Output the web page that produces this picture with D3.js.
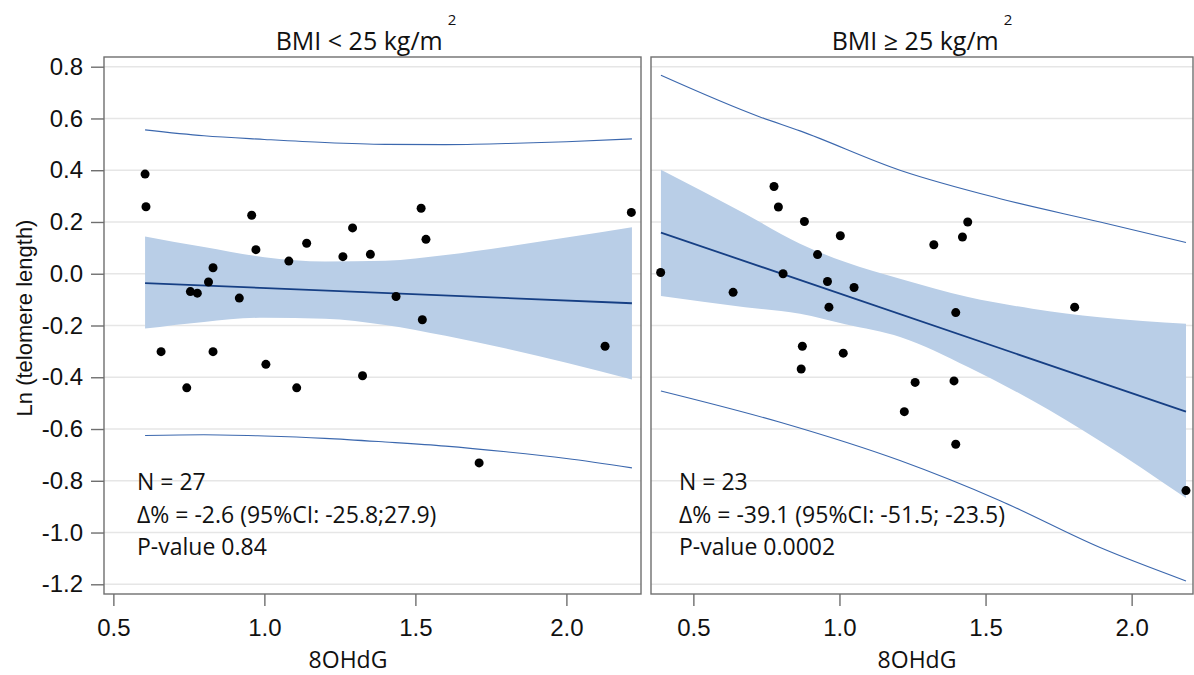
<!DOCTYPE html>
<html>
<head>
<meta charset="utf-8">
<script src="https://cdn.jsdelivr.net/npm/d3@7"></script>
<style>
body { margin: 0; background: #fff; }
</style>
</head>
<body>
<div id="chart"></div>
<script>
// ---------------- data ----------------
const yTicks = [0.8, 0.6, 0.4, 0.2, 0.0, -0.2, -0.4, -0.6, -0.8, -1.0, -1.2];
const xTicks = [0.5, 1.0, 1.5, 2.0];
const panelTitles = ["BMI < 25 kg/m", "BMI \u2265 25 kg/m"];
const xTitle = "8OHdG";
const yTitle = "Ln (telomere length)";

// BMI < 25
const lowX = [0.605, 0.608, 0.658, 0.743, 0.755, 0.778, 0.815, 0.830, 0.830, 0.917,
              0.958, 0.972, 1.005, 1.081, 1.107, 1.140, 1.260, 1.292, 1.325, 1.351,
              1.436, 1.519, 1.535, 1.523, 1.711, 2.128, 2.215];
const lowY = [0.385, 0.259, -0.301, -0.441, -0.069, -0.075, -0.032, 0.023, -0.301, -0.094,
              0.226, 0.093, -0.350, 0.049, -0.441, 0.118, 0.066, 0.177, -0.394, 0.075,
              -0.088, 0.253, 0.133, -0.178, -0.731, -0.280, 0.237];
const lowFitX = [0.605, 2.217];
const lowFitY = [-0.036, -0.114];
const lowBandX = [0.605, 0.8, 1.0, 1.2, 1.4, 1.6, 1.8, 2.0, 2.217];
const lowCiUp = [0.144, 0.103, 0.064, 0.047, 0.050, 0.072, 0.104, 0.140, 0.180];
const lowCiLo = [-0.212, -0.186, -0.170, -0.174, -0.198, -0.240, -0.289, -0.344, -0.409];
const lowPiUp = [0.556, 0.533, 0.519, 0.507, 0.500, 0.499, 0.503, 0.510, 0.521];
const lowPiLo = [-0.625, -0.622, -0.627, -0.636, -0.650, -0.666, -0.688, -0.714, -0.750];
const lowNotes = ["N = 27", "\u0394% = -2.6 (95%CI: -25.8;27.9)", "P-value 0.84"];

// BMI >= 25
const highX = [0.388, 0.636, 0.776, 0.791, 0.880, 1.003, 0.925, 0.807, 0.959, 0.964,
               1.050, 1.323, 1.421, 1.439, 1.398, 1.805, 0.873, 1.013, 0.869, 1.259,
               1.392, 1.222, 1.398, 2.186];
const highY = [0.005, -0.072, 0.337, 0.258, 0.202, 0.147, 0.074, 0.000, -0.030, -0.129,
               -0.053, 0.112, 0.142, 0.200, -0.150, -0.129, -0.280, -0.307, -0.368, -0.420,
               -0.414, -0.533, -0.659, -0.838];
const highFitX = [0.389, 2.186];
const highFitY = [0.159, -0.533];
const highBandX = [0.389, 0.677, 0.865, 1.02, 1.21, 1.44, 1.66, 1.89, 2.186];
const highCiUp = [0.402, 0.232, 0.116, 0.045, -0.020, -0.090, -0.135, -0.168, -0.193];
const highCiLo = [-0.086, -0.129, -0.155, -0.195, -0.245, -0.360, -0.490, -0.645, -0.867];
const highPiX = [0.389, 0.728, 0.865, 1.207, 1.55, 1.892, 2.186];
const highPiUp = [0.767, 0.606, 0.552, 0.400, 0.290, 0.200, 0.121];
const highPiLoX = [0.389, 0.797, 1.207, 1.55, 1.892, 2.186];
const highPiLo = [-0.453, -0.574, -0.722, -0.877, -1.058, -1.187];
const highNotes = ["N = 23", "\u0394% = -39.1 (95%CI: -51.5; -23.5)", "P-value 0.0002"];

// ---------------- layout ----------------
const FRAME_WIDTH = 1194;
const FRAME_HEIGHT = 675;
const TOP = 57, BOTTOM = 594;
const BAND_COLOR = "#b9cee7";
const FIT_COLOR = "#163f84";
const PI_COLOR = "#3c68ae";
const TICK_FONT = "'Liberation Sans', Arial, sans-serif";
const TEXT_FONT = "'Open Sans', 'Noto Sans', sans-serif";

const zip = (a, b) => a.map((v, i) => [v, b[i]]);

const panels = [
  {left: 104, right: 641, domain: [0.469, 2.247], title: panelTitles[0], titleX: 366, xTitleX: 348,
   pts: zip(lowX, lowY), fit: zip(lowFitX, lowFitY),
   band: lowBandX.map((x, i) => [x, lowCiLo[i], lowCiUp[i]]),
   piUp: zip(lowBandX, lowPiUp), piLo: zip(lowBandX, lowPiLo), notes: lowNotes},
  {left: 651, right: 1193, domain: [0.355, 2.210], title: panelTitles[1], titleX: 922, xTitleX: 917,
   pts: zip(highX, highY), fit: zip(highFitX, highFitY),
   band: highBandX.map((x, i) => [x, highCiLo[i], highCiUp[i]]),
   piUp: zip(highPiX, highPiUp), piLo: zip(highPiLoX, highPiLo), notes: highNotes}
];

const SVG = d3.select("#chart")
  .append("svg")
    .attr("width", FRAME_WIDTH)
    .attr("height", FRAME_HEIGHT);

const y = d3.scaleLinear()
  .domain([-1.2375, 0.8375])
  .range([BOTTOM, TOP]);

panels.forEach((p, k) => {
  const x = d3.scaleLinear().domain(p.domain).range([p.left, p.right]);
  const g = SVG.append("g");

  // horizontal grid
  g.selectAll(".grid")
    .data(yTicks)
    .enter()
    .append("line")
      .attr("x1", p.left).attr("x2", p.right)
      .attr("y1", d => y(d)).attr("y2", d => y(d))
      .attr("stroke", "#e6e6e6")
      .attr("stroke-width", 1.5);

  // confidence band
  g.append("path")
    .datum(p.band)
    .attr("fill", BAND_COLOR)
    .attr("d", d3.area()
      .x(d => x(d[0]))
      .y0(d => y(d[1]))
      .y1(d => y(d[2]))
      .curve(d3.curveMonotoneX));

  // prediction interval lines
  const line = d3.line().x(d => x(d[0])).y(d => y(d[1])).curve(d3.curveMonotoneX);
  [p.piUp, p.piLo].forEach(pts => {
    g.append("path")
      .datum(pts)
      .attr("fill", "none")
      .attr("stroke", PI_COLOR)
      .attr("stroke-width", 1.1)
      .attr("d", line);
  });

  // fitted line
  g.append("path")
    .datum(p.fit)
    .attr("fill", "none")
    .attr("stroke", FIT_COLOR)
    .attr("stroke-width", 1.8)
    .attr("d", d3.line().x(d => x(d[0])).y(d => y(d[1])));

  // points
  g.selectAll(".dot")
    .data(p.pts)
    .enter()
    .append("circle")
      .attr("cx", d => x(d[0]))
      .attr("cy", d => y(d[1]))
      .attr("r", 4.5)
      .attr("fill", "#000");

  // frame
  g.append("rect")
    .attr("x", p.left).attr("y", TOP)
    .attr("width", p.right - p.left).attr("height", BOTTOM - TOP)
    .attr("fill", "none")
    .attr("stroke", "#6f6f6f")
    .attr("stroke-width", 1.4);

  // x axis
  const xa = g.append("g")
    .attr("transform", "translate(0," + BOTTOM + ")")
    .call(d3.axisBottom(x).tickValues(xTicks).tickSize(12).tickPadding(13)
      .tickFormat(d => d.toFixed(1)));
  xa.select(".domain").remove();
  xa.selectAll("line").attr("stroke", "#6f6f6f").attr("stroke-width", 1.4);
  xa.selectAll("text").attr("font-family", TICK_FONT).attr("font-size", 24).attr("fill", "#111");

  // x title
  g.append("text")
    .attr("x", p.xTitleX).attr("y", 668)
    .attr("text-anchor", "middle")
    .attr("font-family", TEXT_FONT).attr("font-size", 23).attr("fill", "#111")
    .text(xTitle);

  // panel title with squared unit
  const t = g.append("text")
    .attr("x", p.titleX).attr("y", 50)
    .attr("text-anchor", "middle")
    .attr("font-family", TEXT_FONT).attr("font-size", 25).attr("fill", "#111");
  t.append("tspan").text(p.title);
  t.append("tspan").attr("dx", 5).attr("dy", -25).attr("font-size", 15).text("2");

  // notes
  g.selectAll(".note")
    .data(p.notes)
    .enter()
    .append("text")
      .attr("x", p.left + (k == 0 ? 33 : 28))
      .attr("y", (d, i) => 490 + i * 32.5)
      .attr("font-family", TEXT_FONT).attr("font-size", 23).attr("fill", "#111")
      .text(d => d);
});

// y axis, left panel only
const ya = SVG.append("g")
  .attr("transform", "translate(" + panels[0].left + ",0)")
  .call(d3.axisLeft(y).tickValues(yTicks).tickSize(13).tickPadding(8)
    .tickFormat(d => d.toFixed(1)));
ya.select(".domain").remove();
ya.selectAll("line").attr("stroke", "#6f6f6f").attr("stroke-width", 1.4);
ya.selectAll("text").attr("font-family", TICK_FONT).attr("font-size", 24).attr("fill", "#111");

SVG.append("text")
  .attr("transform", "translate(32,318) rotate(-90)")
  .attr("text-anchor", "middle")
  .attr("font-family", TICK_FONT).attr("font-size", 22).attr("fill", "#111")
  .text(yTitle);
</script>
</body>
</html>
